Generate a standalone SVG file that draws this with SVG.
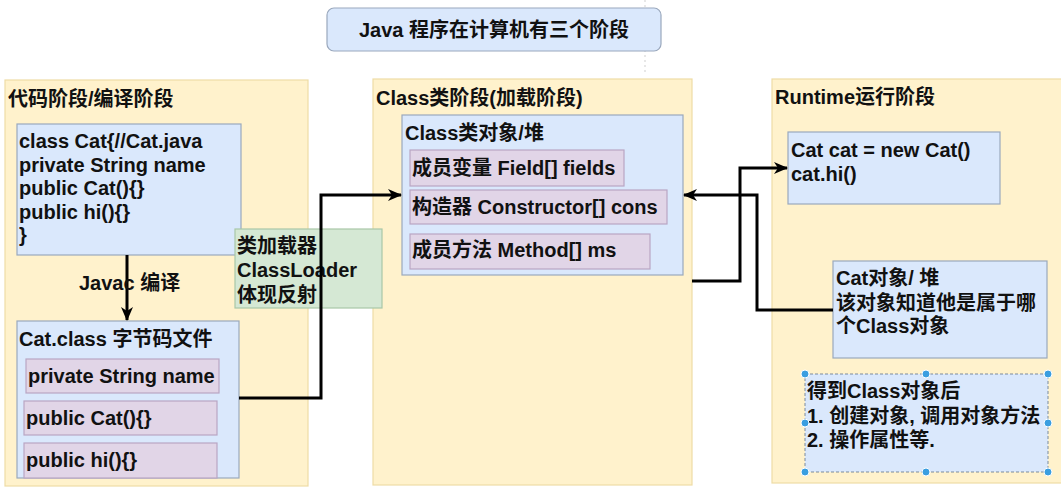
<svg xmlns="http://www.w3.org/2000/svg" width="1061" height="490" viewBox="0 0 1061 490">
<defs>
<style>
text{font-family:"Liberation Sans","Noto Sans CJK SC",sans-serif;font-weight:bold;font-size:20px;fill:#111}
.panel{fill:#fff2cc;stroke:#eedca6;stroke-width:1.2}
.blue{fill:#dae8fc;stroke:#9aa8bd;stroke-width:1.2}
.pink{fill:#e1d5e7;stroke:#b9a6c4;stroke-width:1.2}
.green{fill:#d5e8d4;stroke:#a9c7a7;stroke-width:1.2}
.conn{fill:none;stroke:#000;stroke-width:3}
.handle{fill:#3a9ee0;stroke:#fff;stroke-width:1}
</style>
<marker id="arr" viewBox="0 0 14 12" refX="13" refY="6" markerWidth="14" markerHeight="12" markerUnits="userSpaceOnUse" orient="auto">
<path d="M0,0 L14,6 L0,12 L4,6 Z" fill="#000"/>
</marker>
</defs>
<rect width="1061" height="490" fill="#fff"/>
<line x1="645" y1="0" x2="645" y2="75" stroke="#cfcfcf" stroke-width="1" stroke-dasharray="2 3"/>

<g id="title">
<rect x="327" y="8" width="334" height="43" rx="7" fill="#dae8fc" stroke="#9aa8bd" stroke-width="1.2"/>
<text x="494" y="37" text-anchor="middle" font-size="19.5">Java 程序在计算机有三个阶段</text>
</g>

<g id="panel-code">
<rect class="panel" x="5" y="80" width="303" height="406"/>
<text x="8" y="106">代码阶段/编译阶段</text>
</g>
<g id="panel-class">
<rect class="panel" x="373" y="79" width="319" height="406"/>
<text x="376" y="105">Class类阶段(加载阶段)</text>
</g>
<g id="panel-runtime">
<rect class="panel" x="772" y="79" width="300" height="404"/>
<text x="775" y="104">Runtime运行阶段</text>
</g>

<g id="catjava">
<rect class="blue" x="17" y="124" width="224" height="131"/>
<text x="19" y="148">class Cat{//Cat.java</text>
<text x="19" y="171.5">private String name</text>
<text x="19" y="195">public Cat(){}</text>
<text x="19" y="218.5">public hi(){}</text>
<text x="19" y="242">}</text>
</g>

<g id="catclass">
<rect class="blue" x="17" y="321" width="222" height="157"/>
<text x="19" y="346">Cat.class 字节码文件</text>
<rect class="pink" x="26" y="359" width="193" height="34"/>
<text x="28" y="383">private String name</text>
<rect class="pink" x="24" y="401" width="193" height="34"/>
<text x="26" y="425">public Cat(){}</text>
<rect class="pink" x="24" y="443" width="193" height="35"/>
<text x="26" y="467">public hi(){}</text>
</g>

<g id="classloader">
<rect class="green" x="235" y="229" width="147" height="79"/>
<text x="237" y="253">类加载器</text>
<text x="237" y="277">ClassLoader</text>
<text x="237" y="302">体现反射</text>
</g>

<g id="classobj">
<rect class="blue" x="402" y="115" width="281" height="160"/>
<text x="405" y="140">Class类对象/堆</text>
<rect class="pink" x="410" y="150" width="214" height="36"/>
<text x="412" y="175">成员变量 Field[] fields</text>
<rect class="pink" x="410" y="190" width="257" height="34"/>
<text x="412" y="214">构造器 Constructor[] cons</text>
<rect class="pink" x="410" y="234" width="240" height="35"/>
<text x="412" y="257">成员方法 Method[] ms</text>
</g>

<g id="newcat">
<rect class="blue" x="788" y="132" width="212" height="72"/>
<text x="791" y="157">Cat cat = new Cat()</text>
<text x="791" y="181">cat.hi()</text>
</g>

<g id="catheap">
<rect class="blue" x="833" y="261" width="214" height="97"/>
<text x="836" y="285">Cat对象/ 堆</text>
<text x="836" y="310">该对象知道他是属于哪</text>
<text x="836" y="333">个Class对象</text>
</g>

<g id="getclass">
<rect x="805" y="374" width="243" height="98" fill="#dae8fc" stroke="#7a8a9c" stroke-width="1" stroke-dasharray="3 2"/>
<text x="807" y="398">得到Class对象后</text>
<text x="807" y="423">1. 创建对象, 调用对象方法</text>
<text x="807" y="447">2. 操作属性等.</text>
<circle class="handle" cx="805" cy="374" r="4"/>
<circle class="handle" cx="926" cy="374" r="4"/>
<circle class="handle" cx="1048" cy="374" r="4"/>
<circle class="handle" cx="805" cy="423" r="4"/>
<circle class="handle" cx="1048" cy="423" r="4"/>
<circle class="handle" cx="805" cy="472" r="4"/>
<circle class="handle" cx="926" cy="472" r="4"/>
<circle class="handle" cx="1048" cy="472" r="4"/>
</g>

<g id="connectors">
<line class="conn" x1="127" y1="255" x2="127" y2="320" marker-end="url(#arr)"/>
<text x="79" y="290" font-size="18.5">Javac 编译</text>
<polyline class="conn" points="239,398 321,398 321,195 401,195" marker-end="url(#arr)"/>
<polyline class="conn" points="833,310 757,310 757,195 684,195" marker-end="url(#arr)"/>
<polyline class="conn" points="692,281 740,281 740,168 787,168" marker-end="url(#arr)"/>
</g>
</svg>
